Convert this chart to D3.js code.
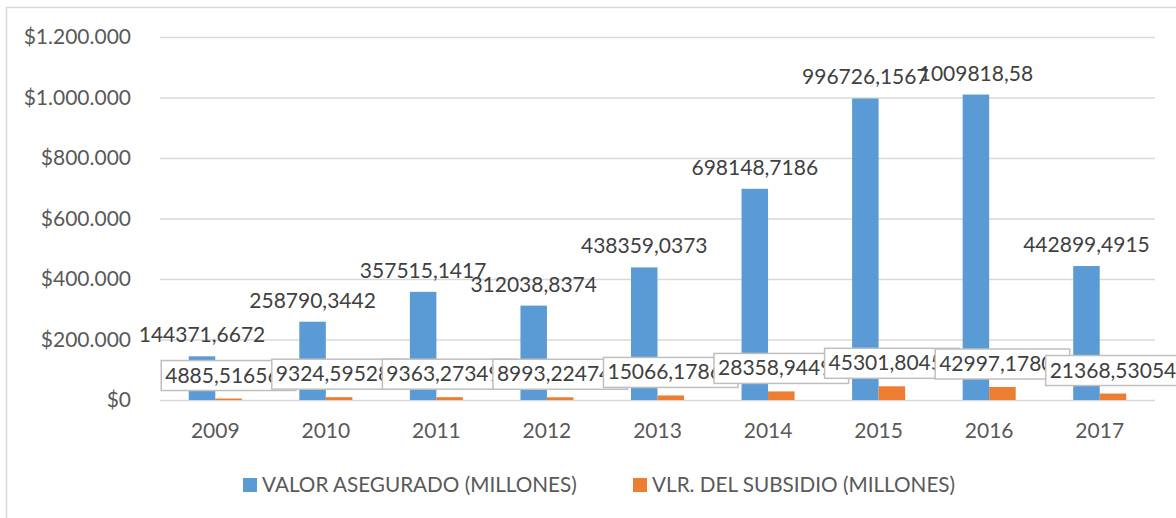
<!DOCTYPE html>
<html><head><meta charset="utf-8">
<script src="https://cdn.jsdelivr.net/npm/d3@7"></script>
<style>body{margin:0;background:#fff}svg{display:block}text{font-family:Lato,"Open Sans",sans-serif}</style>
</head><body><svg id="c" width="1176" height="518"></svg>
<script>
const years = ["2009","2010","2011","2012","2013","2014","2015","2016","2017"];
const seriesNames = ["VALOR ASEGURADO (MILLONES)","VLR. DEL SUBSIDIO (MILLONES)"];
const valorAsegurado = [144371.6672,258790.3442,357515.1417,312038.8374,438359.0373,698148.7186,996726.1567,1009818.58,442899.4915];
const subsidio = [4885.516566,9324.595284,9363.273494,8993.224744,15066.17863,28358.94495,45301.80453,42997.17804,21368.53054];
const yTicks = [0,200000,400000,600000,800000,1000000,1200000];
const colors = ["#5B9BD5","#ED7D31"];

const svg = d3.select("#c");
svg.append("rect").attr("x",6.5).attr("y",7.5).attr("width",1300).attr("height",600)
  .attr("fill","#fff").attr("stroke","#D9D9D9").attr("stroke-width",1.5);

const x = d3.scaleBand().domain(years).range([160,1155]).padding(0);
const xs = d3.scaleBand().domain(seriesNames).range([0,x.bandwidth()]).paddingInner(0).paddingOuter(1.085);
const y = d3.scaleLinear().domain([0,1200000]).range([400,37]);

const fmtMoney = v => "$" + d3.format(",")(v).replace(/,/g,".");
const fmtLabel = v => String(v).replace(".",",");

const ya = svg.append("g").attr("transform","translate(160,0)")
  .call(d3.axisLeft(y).tickValues(yTicks).tickSize(-(1155-160)).tickFormat(fmtMoney).tickPadding(29));
ya.select(".domain").remove();
ya.selectAll(".tick line").attr("stroke","#D9D9D9").attr("stroke-width",1.5);
ya.selectAll(".tick text").attr("fill","#595959").style("font-size","21px");

const xa = svg.append("g").attr("transform","translate(0,400)")
  .call(d3.axisBottom(x).tickSize(0).tickPadding(23));
xa.select(".domain").remove();
xa.selectAll(".tick text").attr("fill","#595959").style("font-size","21px");

const data = [valorAsegurado, subsidio];
data.forEach((vals,si)=>{
  svg.append("g").selectAll("rect").data(vals).join("rect")
    .attr("x",(d,i)=>x(years[i])+xs(seriesNames[si]))
    .attr("width",xs.bandwidth())
    .attr("y",d=>y(d)).attr("height",d=>y(0)-y(d))
    .attr("fill",colors[si]);
});

// blue labels
svg.append("g").selectAll("text").data(valorAsegurado).join("text")
  .attr("x",(d,i)=>x(years[i])+xs(seriesNames[0])+xs.bandwidth()/2)
  .attr("y",d=>y(d)-14)
  .attr("text-anchor","middle").attr("fill","#404040")
  .style("font-size","21px").text(fmtLabel);

// orange labels with boxes
const og = svg.append("g");
subsidio.forEach((d,i)=>{
  const cx = x(years[i])+xs(seriesNames[1])+xs.bandwidth()/2;
  const g = og.append("g");
  const r = g.append("rect");
  const t = g.append("text").attr("fill","#404040").style("font-size","21px").text(fmtLabel(d));
  const w = t.node().getComputedTextLength()+8;
  const bottom = y(d)-8;
  r.attr("x",cx-w/2).attr("y",bottom-30).attr("width",w).attr("height",30)
   .attr("fill","#fff").attr("stroke","#BFBFBF").attr("stroke-width",1.5);
  t.attr("x",cx-w/2+4).attr("y",bottom-8);
});

// legend
const lg = svg.append("g");
const lx = [243,633];
seriesNames.forEach((s,i)=>{
  lg.append("rect").attr("x",lx[i]).attr("y",478).attr("width",14).attr("height",14).attr("fill",colors[i]);
  lg.append("text").attr("x",lx[i]+19).attr("y",492).attr("fill","#595959").style("font-size","20.7px").text(s);
});
</script></body></html>
